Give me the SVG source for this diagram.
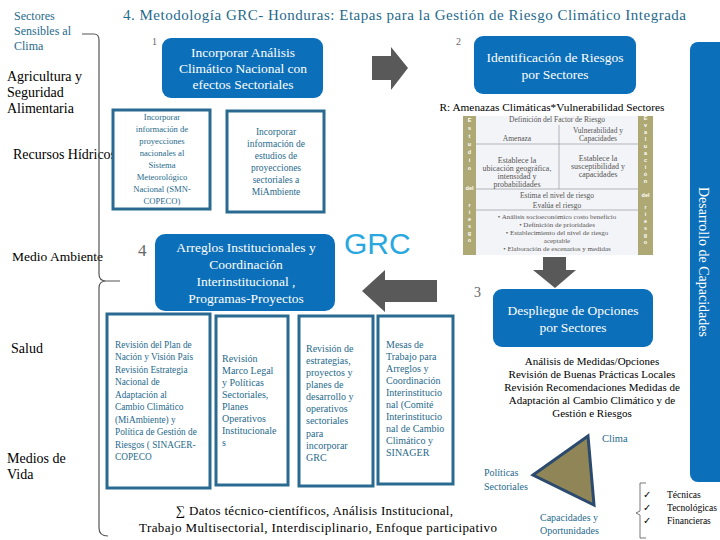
<svg xmlns="http://www.w3.org/2000/svg" width="720" height="540" viewBox="0 0 720 540">
<style>
.serif{font-family:"Liberation Serif","Times New Roman",serif}
.sans{font-family:"Liberation Sans",Arial,sans-serif}
.blue{fill:#0b6fba}
.wt{fill:#ffffff;font-family:"Liberation Serif",serif;text-anchor:middle}
.teal{fill:#1f6a8c;font-family:"Liberation Serif",serif}
.blk{fill:#000;font-family:"Liberation Serif",serif}
.obox{fill:#ffffff;stroke:#2a6a90;stroke-width:3}
.arrow{fill:#595959}
.num{fill:#666;font-family:"Liberation Serif",serif}
.tbl{fill:#555;font-family:"Liberation Serif",serif;text-anchor:middle}
.col{fill:#fff;font-family:"Liberation Sans",sans-serif;font-size:5.5px;font-weight:bold;text-anchor:middle}
</style>
<rect width="720" height="540" fill="#ffffff"/>

<text x="123" y="20" class="teal" font-size="15" fill="#1f5f7a" textLength="563" lengthAdjust="spacing">4. Metodología GRC- Honduras:  Etapas para la Gestión de Riesgo Climático Integrada</text>

<g id="sectors">
<text x="14" y="20" class="teal" font-size="12" fill="#2b7391">Sectores</text>
<text x="14" y="35" class="teal" font-size="12" fill="#2b7391">Sensibles al</text>
<text x="14" y="50" class="teal" font-size="12" fill="#2b7391">Clima</text>
<text x="7" y="81" class="blk" font-size="14">Agricultura y</text>
<text x="7" y="97" class="blk" font-size="14">Seguridad</text>
<text x="7" y="113" class="blk" font-size="14">Alimentaria</text>
<text x="13" y="159" class="blk" font-size="14">Recursos Hídricos</text>
<text x="12" y="261" class="blk" font-size="13.5">Medio Ambiente</text>
<text x="11" y="353" class="blk" font-size="14">Salud</text>
<text x="7" y="463" class="blk" font-size="14">Medios de</text>
<text x="7" y="479" class="blk" font-size="14">Vida</text>
</g>

<g id="connectors">
<path d="M82,34 L94,34 Q99,34 99,40 L99,274 Q99,281 106,281 L120,281 M106,281 Q99,281 99,288 L99,528 Q99,536 108,536" fill="none" stroke="#555" stroke-width="1.2"/>
<polygon class="arrow" points="372,56 391,56 391,47 408,68 391,90 391,80 372,80"/>
<polygon class="arrow" points="543,257 566,257 566,270 576,270 555,288 533,270 543,270"/>
<polygon class="arrow" points="437,280 385,280 385,270 362,291 385,312 385,302 437,302"/>
</g>

<g id="step1">
<rect x="162" y="38" width="161" height="60" rx="9" class="blue"/>
<text x="243" y="57" class="wt" font-size="13.5">Incorporar Análisis</text>
<text x="243" y="73" class="wt" font-size="13.5">Climático  Nacional con</text>
<text x="243" y="89" class="wt" font-size="13.5">efectos Sectoriales</text>
<text x="152" y="45" class="num" font-size="10">1</text>
</g>

<g id="step2">
<rect x="474" y="36" width="162" height="58" rx="9" class="blue"/>
<text x="555" y="62" class="wt" font-size="13.5">Identificación de Riesgos</text>
<text x="555" y="79" class="wt" font-size="13.5">por Sectores</text>
<text x="456" y="45" class="num" font-size="10">2</text>
<text x="552" y="111" class="blk" font-size="11.3" text-anchor="middle">R: Amenazas Climáticas*Vulnerabilidad Sectores</text>
</g>

<g id="box-smn">
<rect x="113" y="110" width="97" height="99" class="obox"/>
<g class="teal" font-size="8.6" text-anchor="middle">
<text x="162" y="120">Incorporar</text>
<text x="162" y="132">información de</text>
<text x="162" y="144">proyecciones</text>
<text x="162" y="156">nacionales al</text>
<text x="162" y="168">Sistema</text>
<text x="162" y="180">Meteorológico</text>
<text x="162" y="192">Nacional (SMN-</text>
<text x="162" y="204">COPECO)</text>
</g>
</g>

<g id="box-miambiente">
<rect x="227" y="111" width="97" height="101" class="obox"/>
<g class="teal" font-size="9.5" text-anchor="middle">
<text x="276" y="135">Incorporar</text>
<text x="276" y="147">información de</text>
<text x="276" y="159">estudios de</text>
<text x="276" y="171">proyecciones</text>
<text x="276" y="183">sectoriales a</text>
<text x="276" y="195">MiAmbiente</text>
</g>
</g>

<g id="risk-table">
<rect x="463" y="116" width="190" height="139" fill="#f3f4f7"/>
<rect x="463" y="116" width="13" height="139" fill="#aea874"/>
<rect x="638" y="116" width="15" height="139" fill="#aea874"/>
<g stroke="#a0a4aa" stroke-width="0.8">
<line x1="559" y1="125" x2="559" y2="189"/>
<line x1="476" y1="144" x2="638" y2="144"/>
<line x1="476" y1="189" x2="638" y2="189"/>
<line x1="476" y1="210" x2="638" y2="210"/>
</g>
<text x="557" y="122" class="tbl" font-size="7.5">Definición del Factor de Riesgo</text>
<text x="517" y="141" class="tbl" font-size="7.5">Amenaza</text>
<text x="598" y="133" class="tbl" font-size="7.5">Vulnerabilidad y</text>
<text x="598" y="141" class="tbl" font-size="7.5">Capacidades</text>
<text x="517" y="163" class="tbl" font-size="8">Establece la</text>
<text x="517" y="171" class="tbl" font-size="8">ubicación geográfica,</text>
<text x="517" y="179" class="tbl" font-size="8">intensidad y</text>
<text x="517" y="187" class="tbl" font-size="8">probabilidades</text>
<text x="598" y="161" class="tbl" font-size="8">Establece la</text>
<text x="598" y="169" class="tbl" font-size="8">susceptibilidad y</text>
<text x="598" y="177" class="tbl" font-size="8">capacidades</text>
<text x="557" y="198" class="tbl" font-size="7.5">Estima el nivel de riesgo</text>
<text x="557" y="208" class="tbl" font-size="7.5">Evalúa el riesgo</text>
<text x="557" y="219" class="tbl" font-size="7">•    Análisis socioeconómico costo beneficio</text>
<text x="557" y="227" class="tbl" font-size="7">•    Definición de prioridades</text>
<text x="557" y="235" class="tbl" font-size="7">•    Establecimiento del nivel de riesgo</text>
<text x="557" y="243" class="tbl" font-size="7">aceptable</text>
<text x="557" y="251" class="tbl" font-size="7">•    Elaboración de escenarios y medidas</text>
<g class="col">
<text x="469.5" y="122">E</text><text x="469.5" y="130">s</text><text x="469.5" y="138">t</text><text x="469.5" y="146">u</text><text x="469.5" y="154">d</text><text x="469.5" y="162">i</text><text x="469.5" y="170">o</text>
<text x="469.5" y="190">del</text>
<text x="469.5" y="207">r</text><text x="469.5" y="214">i</text><text x="469.5" y="221">e</text><text x="469.5" y="228">s</text><text x="469.5" y="235">g</text><text x="469.5" y="242">o</text>
<text x="645.5" y="120">E</text><text x="645.5" y="127">v</text><text x="645.5" y="134">a</text><text x="645.5" y="141">l</text><text x="645.5" y="148">u</text><text x="645.5" y="155">a</text><text x="645.5" y="162">c</text><text x="645.5" y="169">i</text><text x="645.5" y="176">ó</text><text x="645.5" y="183">n</text>
<text x="645.5" y="197">del</text>
<text x="645.5" y="209">r</text><text x="645.5" y="216">i</text><text x="645.5" y="223">e</text><text x="645.5" y="230">s</text><text x="645.5" y="237">g</text><text x="645.5" y="244">o</text>
</g>
</g>

<g id="grc-logo">
<text x="344" y="254" class="sans" font-size="30" fill="#29a8df">GRC</text>
</g>

<g id="capacity-bar">
<rect x="690" y="42" width="40" height="440" rx="8" class="blue"/>
<text transform="translate(699,262) rotate(90)" class="wt" font-size="14" textLength="150" lengthAdjust="spacingAndGlyphs">Desarrollo de Capacidades</text>
</g>

<g id="step3">
<rect x="493" y="289" width="160" height="58" rx="9" class="blue"/>
<text x="573" y="315" class="wt" font-size="13.5">Despliegue de Opciones</text>
<text x="573" y="332" class="wt" font-size="13.5">por Sectores</text>
<text x="474" y="297" class="num" font-size="14">3</text>
</g>

<g id="step4">
<rect x="155" y="234" width="180" height="77" rx="10" class="blue"/>
<text x="246" y="252" class="wt" font-size="13.5">Arreglos Institucionales y</text>
<text x="246" y="269" class="wt" font-size="13.5">Coordinación</text>
<text x="246" y="286" class="wt" font-size="13.5">Interinstitucional ,</text>
<text x="246" y="303" class="wt" font-size="13.5">Programas-Proyectos</text>
<text x="138" y="256" class="num" font-size="17" fill="#777">4</text>
</g>

<g id="box-plan">
<rect x="107" y="314" width="103" height="174" class="obox"/>
<g class="teal" font-size="9.3">
<text x="115" y="348">Revisión del Plan de</text>
<text x="115" y="360">Nación y Visión País</text>
<text x="115" y="373">Revisión  Estrategia</text>
<text x="115" y="385">Nacional  de</text>
<text x="115" y="398">Adaptación al</text>
<text x="115" y="410">Cambio Climático</text>
<text x="115" y="423">(MiAmbiente) y</text>
<text x="115" y="435">Política de Gestión de</text>
<text x="115" y="448">Riesgos ( SINAGER-</text>
<text x="115" y="460">COPECO</text>
</g>
</g>

<g id="box-marco">
<rect x="216" y="316" width="72" height="169" class="obox"/>
<g class="teal" font-size="10">
<text x="222" y="362">Revisión</text>
<text x="222" y="374">Marco Legal</text>
<text x="222" y="386">y Políticas</text>
<text x="222" y="398">Sectoriales,</text>
<text x="222" y="410">Planes</text>
<text x="222" y="422">Operativos</text>
<text x="222" y="434">Institucionale</text>
<text x="222" y="446">s</text>
</g>
</g>

<g id="box-estrategias">
<rect x="299" y="316" width="74" height="170" class="obox"/>
<g class="teal" font-size="10">
<text x="306" y="352">Revisión de</text>
<text x="306" y="364">estrategias,</text>
<text x="306" y="376">proyectos y</text>
<text x="306" y="388">planes de</text>
<text x="306" y="400">desarrollo y</text>
<text x="306" y="412">operativos</text>
<text x="306" y="424">sectoriales</text>
<text x="306" y="437">para</text>
<text x="306" y="449">incorporar</text>
<text x="306" y="461">GRC</text>
</g>
</g>

<g id="box-mesas">
<rect x="378" y="316" width="75" height="168" class="obox"/>
<g class="teal" font-size="10">
<text x="386" y="348">Mesas de</text>
<text x="386" y="360">Trabajo para</text>
<text x="386" y="372">Arreglos y</text>
<text x="386" y="384">Coordinación</text>
<text x="386" y="396">Interinstitucio</text>
<text x="386" y="408">nal (Comité</text>
<text x="386" y="420">Interinstitucio</text>
<text x="386" y="432">nal de Cambio</text>
<text x="386" y="444">Climático y</text>
<text x="386" y="456">SINAGER</text>
</g>
</g>

<g id="analysis-text" class="blk" font-size="11" text-anchor="middle">
<text x="592" y="365">Análisis de Medidas/Opciones</text>
<text x="592" y="378">Revisión de Buenas Prácticas Locales</text>
<text x="592" y="391">Revisión Recomendaciones Medidas de</text>
<text x="592" y="404">Adaptación al Cambio Climático y de</text>
<text x="592" y="417">Gestión e Riesgos</text>
</g>

<g id="triangle">
<polygon points="588,436 533,475 594,505" fill="#8f8557" stroke="#2b4a6e" stroke-width="3" stroke-linejoin="miter"/>
<text x="602" y="442" class="teal" font-size="10.5">Clima</text>
<text x="484" y="476" class="teal" font-size="10">Políticas</text>
<text x="484" y="490" class="teal" font-size="10">Sectoriales</text>
<text x="540" y="521" class="teal" font-size="10">Capacidades y</text>
<text x="540" y="534" class="teal" font-size="10">Oportunidades</text>
</g>

<g id="capacity-types">
<path d="M646,483 L640,483 L640,511 L636,513 L640,515 L640,538 L646,538" fill="none" stroke="#555" stroke-width="0.8"/>
<g class="blk" font-size="9.5">
<text x="643" y="498">✓</text>
<text x="643" y="511">✓</text>
<text x="643" y="524">✓</text>
<text x="667" y="498">Técnicas</text>
<text x="667" y="511">Tecnológicas</text>
<text x="667" y="524">Financieras</text>
</g>
</g>

<g id="summary" class="blk" font-size="13">
<text x="176" y="515" textLength="277" lengthAdjust="spacing">∑ Datos técnico-científicos,  Análisis Institucional,</text>
<text x="139" y="532" textLength="358" lengthAdjust="spacing">Trabajo Multisectorial, Interdisciplinario, Enfoque participativo</text>
</g>
</svg>
